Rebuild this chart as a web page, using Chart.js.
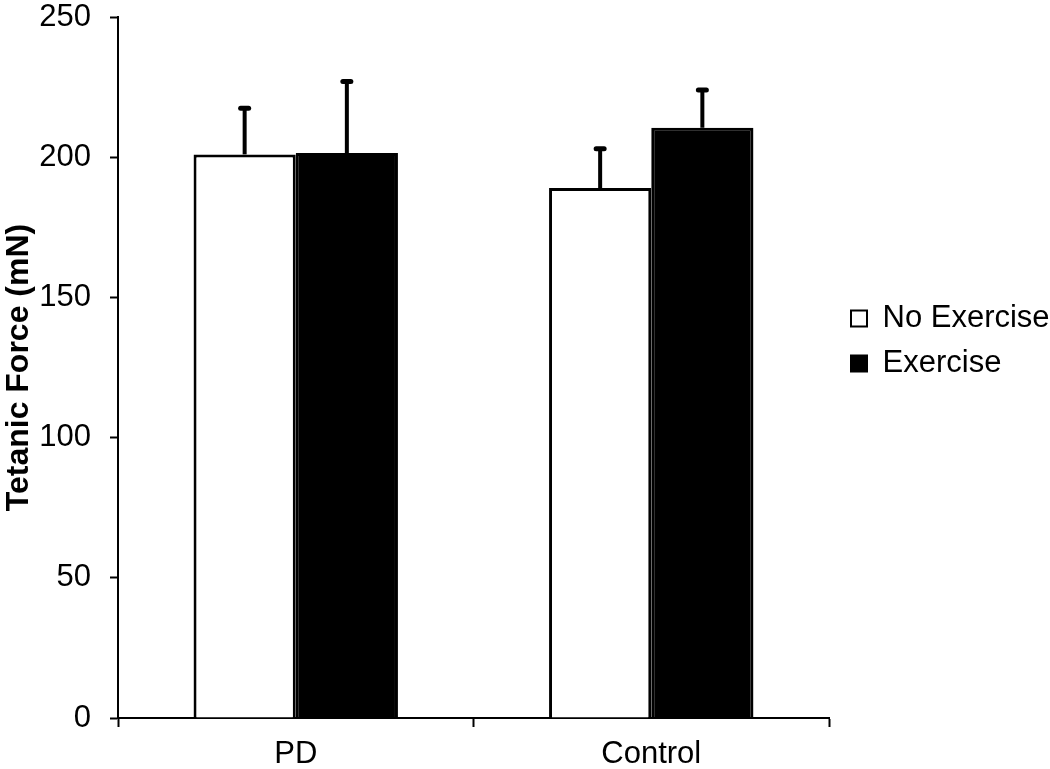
<!DOCTYPE html>
<html>
<head>
<meta charset="utf-8">
<title>Tetanic Force</title>
<script src="https://cdn.jsdelivr.net/npm/chart.js@4/dist/chart.umd.min.js"></script>
<style>
  html, body { margin: 0; padding: 0; background: #fff; }
  #wrap { width: 1050px; height: 769px; }
</style>
</head>
<body>
<div id="wrap"><canvas id="chart" width="1050" height="769"></canvas></div>
<script>
'use strict';

// Data
const groups = ['PD', 'Control'];
const noExercise = [201, 189];
const noExerciseErr = [16.5, 14];
const exercise = [201.5, 210.5];
const exerciseErr = [25.5, 13.5];
const yTicks = [0, 50, 100, 150, 200, 250];

const FONT = "'Liberation Sans', Arial, sans-serif";

// Upward-only error bars with small rounded caps
const errorBars = {
  id: 'errorBars',
  afterDatasetsDraw(chart) {
    const { ctx } = chart;
    const yScale = chart.scales.y;
    chart.data.datasets.forEach((ds, di) => {
      const meta = chart.getDatasetMeta(di);
      meta.data.forEach((bar, i) => {
        const top = yScale.getPixelForValue(ds.data[i] + ds.errors[i]);
        ctx.save();
        ctx.strokeStyle = '#000';
        ctx.lineWidth = 4;
        ctx.beginPath();
        ctx.moveTo(bar.x, bar.y);
        ctx.lineTo(bar.x, top);
        ctx.stroke();
        ctx.lineWidth = 5;
        ctx.lineCap = 'round';
        ctx.beginPath();
        ctx.moveTo(bar.x - 4, top);
        ctx.lineTo(bar.x + 4, top);
        ctx.stroke();
        ctx.restore();
      });
    });
  }
};

// Park the legend beside the plot, a bit above centre, like the figure
const legendPlace = {
  id: 'legendPlace',
  afterLayout(chart) {
    const lg = chart.legend;
    const dx = 837 - lg.left;
    const dy = 289 - lg.top;
    lg.left += dx; lg.right += dx;
    lg.top += dy; lg.bottom += dy;
  }
};

new Chart(document.getElementById('chart').getContext('2d'), {
  type: 'bar',
  data: {
    labels: groups,
    datasets: [
      {
        label: 'No Exercise',
        data: noExercise,
        errors: noExerciseErr,
        backgroundColor: '#ffffff',
        borderColor: '#000000',
        borderWidth: 3,
        borderSkipped: 'bottom',
        categoryPercentage: 0.575,
        barPercentage: 1.0
      },
      {
        label: 'Exercise',
        data: exercise,
        errors: exerciseErr,
        backgroundColor: '#000000',
        borderColor: '#000000',
        borderWidth: 3,
        borderSkipped: 'bottom',
        categoryPercentage: 0.575,
        barPercentage: 1.0
      }
    ]
  },
  options: {
    responsive: false,
    animation: false,
    layout: { padding: 0 },
    plugins: {
      tooltip: { enabled: false },
      legend: {
        position: 'right',
        align: 'start',
        maxWidth: 221,
        labels: {
          color: '#000',
          font: { family: FONT, size: 31 },
          boxWidth: 16,
          boxHeight: 16,
          padding: 14,
          generateLabels(chart) {
            return chart.data.datasets.map((ds, i) => ({
              text: ds.label,
              fillStyle: ds.backgroundColor,
              strokeStyle: '#000',
              lineWidth: 2,
              fontColor: '#000',
              datasetIndex: i
            }));
          }
        }
      }
    },
    scales: {
      x: {
        grid: {
          offset: true,
          drawOnChartArea: false,
          drawTicks: true,
          tickLength: 9,
          tickWidth: 2,
          tickColor: '#000'
        },
        border: { display: true, color: '#000', width: 2 },
        ticks: {
          color: '#000',
          font: { family: FONT, size: 31, lineHeight: 1 },
          padding: 12
        },
        afterFit(scale) { scale.height = 51; }
      },
      y: {
        min: 0,
        max: 250,
        afterBuildTicks(scale) {
          scale.ticks = yTicks.map(v => ({ value: v }));
        },
        grid: {
          drawOnChartArea: false,
          drawTicks: true,
          tickLength: 8,
          tickWidth: 2,
          tickColor: '#000'
        },
        border: { display: true, color: '#000', width: 2 },
        ticks: {
          color: '#000',
          font: { family: FONT, size: 31, lineHeight: 1 },
          padding: 19
        },
        title: {
          display: true,
          text: 'Tetanic Force (mN)',
          color: '#000',
          font: { family: FONT, size: 32, weight: 'bold', lineHeight: 1.2 },
          padding: { top: 0, bottom: 0 }
        },
        afterFit(scale) {
          scale.width = 118;
          scale.paddingTop = 17;
          scale.paddingBottom = 0;
        }
      }
    }
  },
  plugins: [errorBars, legendPlace]
});
</script>
</body>
</html>
